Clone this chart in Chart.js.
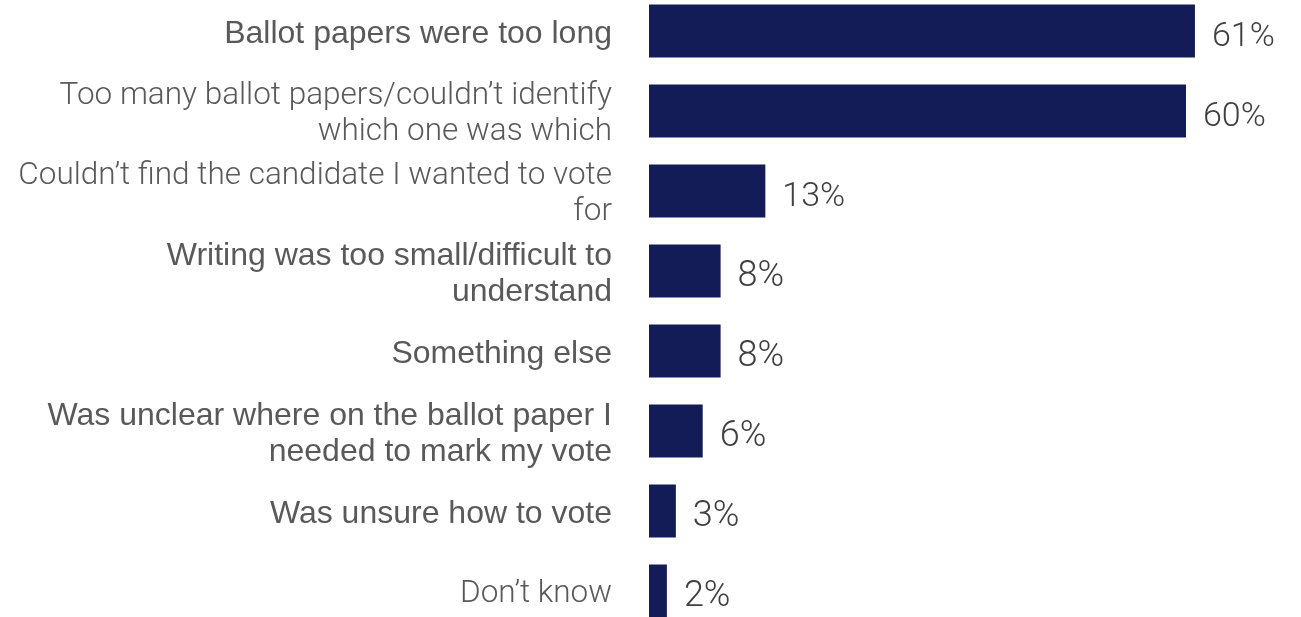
<!DOCTYPE html>
<html>
<head>
<meta charset="utf-8">
<script src="https://cdn.jsdelivr.net/npm/chart.js@4.4.1/dist/chart.umd.min.js"></script>
<style>
  html, body { margin: 0; padding: 0; background: #fff; overflow: hidden; }
  #wrap { position: absolute; left: 0; top: -9px; width: 1301px; height: 640px; }
</style>
</head>
<body>
<div id="wrap"><canvas id="chart"></canvas></div>
<script>
// ==== Data ====
const categories = [
  ['Ballot papers were too long'],
  ['Too many ballot papers/couldn\u2019t identify', 'which one was which'],
  ['Couldn\u2019t find the candidate I wanted to vote', 'for'],
  ['Writing was too small/difficult to', 'understand'],
  ['Something else'],
  ['Was unclear where on the ballot paper I', 'needed to mark my vote'],
  ['Was unsure how to vote'],
  ['Don\u2019t know']
];
const values = [61, 60, 13, 8, 8, 6, 3, 2];
const valueLabels = ['61%', '60%', '13%', '8%', '8%', '6%', '3%', '2%'];

// labels that use the thin face in the original
const lightLabels = [1, 2, 7];

const barColor = '#131c56';
const labelFont = { family: '"Liberation Sans", Arial, sans-serif', size: 32, weight: 'normal', lineHeight: '36px' };
const lightFont = { family: 'Roboto, sans-serif', size: 31.5, weight: '300', lineHeight: '36px' };

// ==== Value labels at the bar ends ====
const valuePlugin = {
  id: 'valueLabels',
  afterDatasetsDraw(chart) {
    const c = chart.ctx;
    const meta = chart.getDatasetMeta(0);
    c.save();
    c.fillStyle = '#404040';
    c.textAlign = 'left';
    c.textBaseline = 'middle';
    meta.data.forEach((bar, i) => {
      c.font = i < 3 ? '300 34px Roboto, sans-serif' : '300 36px Roboto, sans-serif';
      c.fillText(valueLabels[i], bar.x + 17, bar.y + 6);
    });
    c.restore();
  }
};

new Chart(document.getElementById('chart'), {
  type: 'bar',
  data: {
    labels: categories,
    datasets: [{
      data: values,
      backgroundColor: barColor,
      borderWidth: 0,
      categoryPercentage: 1,
      barPercentage: 0.66
    }]
  },
  options: {
    indexAxis: 'y',
    responsive: true,
    maintainAspectRatio: false,
    animation: false,
    layout: { padding: 0 },
    plugins: { legend: { display: false }, tooltip: { enabled: false } },
    scales: {
      x: {
        display: false,
        min: 0,
        max: 72.85
      },
      y: {
        grid: { display: false },
        border: { display: false },
        afterFit(scale) {
          scale.width = 649;
          scale.paddingTop = 0;
          scale.paddingBottom = 0;
        },
        ticks: {
          padding: 29,
          labelOffset: 3,
          color: '#595959',
          font: (ctx) => lightLabels.includes(ctx.index) ? lightFont : labelFont
        }
      }
    }
  },
  plugins: [valuePlugin]
});
</script>
</body>
</html>
